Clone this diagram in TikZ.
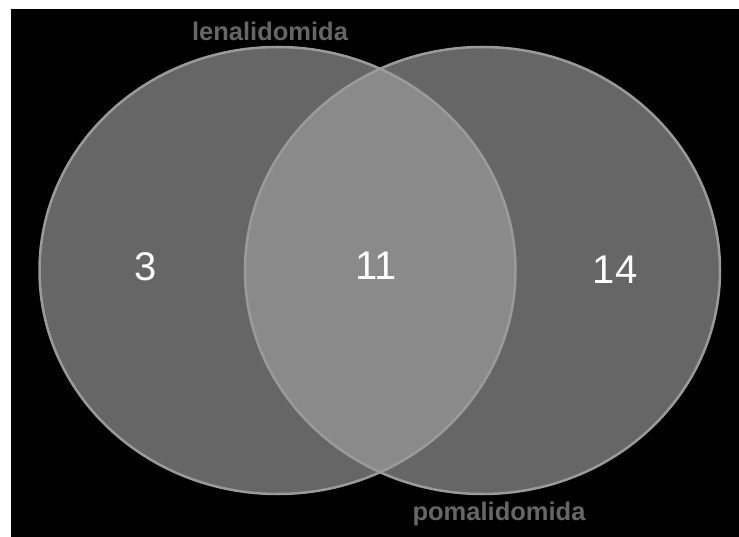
\documentclass[tikz,border=0pt]{standalone}
\usepackage{fontspec}
\setmainfont{Liberation Sans}
\definecolor{setfill}{HTML}{666666}
\definecolor{overlapfill}{HTML}{8A8A8A}
\definecolor{ringcol}{HTML}{9A9A9A}
\definecolor{labelcol}{HTML}{666666}
\tikzset{
  ring/.style={draw=ringcol, line width=2.5pt},
  countlabel/.style={text=white, font=\fontsize{40}{42}\selectfont, inner sep=0pt},
  setlabel/.style={text=labelcol, font=\bfseries\fontsize{25.5}{27}\selectfont, inner sep=0pt}
}
\begin{document}
\begin{tikzpicture}[x=1pt,y=-1pt]
\useasboundingbox (0,0) rectangle (739,537);
\fill[white] (0,0) rectangle (739,537);
\fill[black] (11,9) rectangle (739,537);
% set fills
\fill[setfill] (277.5,270.5) ellipse [x radius=238, y radius=223.5];
\fill[setfill] (482.5,270.5) ellipse [x radius=237.5, y radius=223.5];
\begin{scope}
  \clip (277.5,270.5) ellipse [x radius=238, y radius=223.5];
  \fill[overlapfill] (482.5,270.5) ellipse [x radius=237.5, y radius=223.5];
\end{scope}
% outlines
\draw[ring] (277.5,270.5) ellipse [x radius=238, y radius=223.5];
\draw[ring] (482.5,270.5) ellipse [x radius=237.5, y radius=223.5];
% labels
\node[setlabel] (lena) at (270,31) {lenalidomida};
\node[setlabel] (poma) at (499,514) {pomalidomida};
\node[countlabel] (onlyL) at (145.5,267) {3};
\node[countlabel] (both) at (376,266) {11};
\node[countlabel] (onlyR) at (615,270) {14};
\end{tikzpicture}
\end{document}
